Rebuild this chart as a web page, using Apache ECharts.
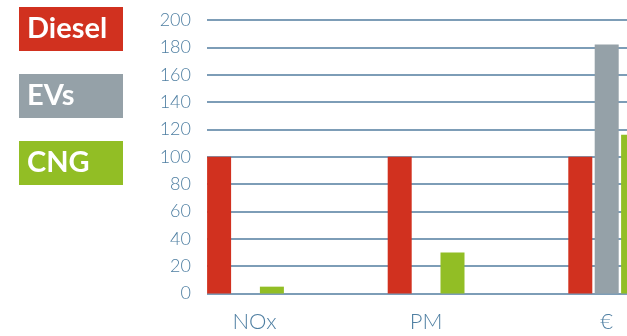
<!DOCTYPE html>
<html>
<head>
<meta charset="utf-8">
<script src="https://cdn.jsdelivr.net/npm/echarts@6/dist/echarts.min.js"></script>
<style>
  html, body { margin: 0; padding: 0; background: #ffffff; }
  #chart { width: 627px; height: 336px; }
</style>
</head>
<body>
<div id="chart"></div>
<script>
// Emissions / cost index, diesel = 100
const categories = ['NOx', 'PM', '€'];
const dieselValues = [100, 100, 100];
const evValues = [0, 0, 182];
const cngValues = [5, 30, 116];
const yTicks = [0, 20, 40, 60, 80, 100, 120, 140, 160, 180, 200];

const seriesNames = ['Diesel', 'EVs', 'CNG'];
const seriesColors = ['#d1311f', '#95a1a8', '#92be25'];

const labelColor = '#4f7fa2';
const gridColor = '#7d9db7';
const fontFamily = 'Lato, "Open Sans", sans-serif';

const chart = echarts.init(document.getElementById('chart'));

const legendBox = (name, color) => ({
  name: name,
  textStyle: {
    color: '#ffffff',
    fontSize: 29,
    fontWeight: 'bold',
    fontFamily: fontFamily,
    backgroundColor: color,
    width: 96,
    height: 44,
    lineHeight: 44,
    padding: [0, 0, 0, 8]
  }
});

chart.setOption({
  animation: false,
  backgroundColor: '#ffffff',
  legend: {
    orient: 'vertical',
    left: 9,
    top: 2,
    itemWidth: 0,
    itemHeight: 14,
    itemGap: 23,
    icon: 'rect',
    selectedMode: false,
    data: seriesNames.map((n, i) => legendBox(n, seriesColors[i]))
  },
  grid: [
    // bars and category labels: ticks sit on the group centres
    { left: 245.5, right: 20.3, top: 20, bottom: 42.5 },
    // value scale and horizontal rules
    { left: 207, right: 0, top: 20, bottom: 42.5 }
  ],
  xAxis: [
    {
      type: 'category',
      gridIndex: 0,
      data: categories,
      boundaryGap: false,
      axisLine: { show: false },
      axisTick: { show: false },
      axisLabel: {
        interval: 0,
        color: labelColor,
        fontSize: 22,
        fontWeight: 300,
        fontFamily: fontFamily,
        margin: 17,
        formatter: (v, i) => (i === 0 ? '{first|' + v + '}' : v),
        rich: {
          first: {
            color: labelColor,
            fontSize: 22,
            fontWeight: 300,
            fontFamily: fontFamily,
            padding: [0, 0, 0, 18]
          }
        }
      }
    },
    {
      type: 'category',
      gridIndex: 1,
      data: categories,
      show: false
    }
  ],
  yAxis: [
    {
      type: 'value',
      gridIndex: 0,
      min: 0,
      max: 200,
      interval: 20,
      show: false,
      splitLine: { show: false }
    },
    {
      type: 'value',
      gridIndex: 1,
      min: yTicks[0],
      max: yTicks[yTicks.length - 1],
      interval: yTicks[1] - yTicks[0],
      axisLine: { show: false },
      axisTick: { show: false },
      axisLabel: {
        color: labelColor,
        fontSize: 18,
        fontWeight: 300,
        fontFamily: fontFamily,
        margin: 16
      },
      splitLine: { show: true, lineStyle: { color: gridColor, width: 2 } }
    }
  ],
  series: [dieselValues, evValues, cngValues].map((vals, i) => ({
    name: seriesNames[i],
    type: 'bar',
    xAxisIndex: 0,
    yAxisIndex: 0,
    data: vals,
    barWidth: 24,
    barGap: '10%',
    clip: false,
    itemStyle: { color: seriesColors[i] },
    z: 3
  }))
});
</script>
</body>
</html>
